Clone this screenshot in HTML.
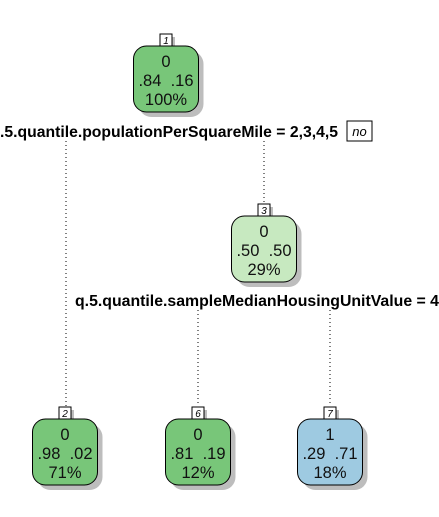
<!DOCTYPE html>
<html><head><meta charset="utf-8"><style>
body{margin:0;background:#fff;}
svg{display:block;font-family:"Liberation Sans",Arial,sans-serif;}
</style></head><body>
<svg id="chart" width="439" height="517" viewBox="0 0 439 517">
<g id="edges" stroke="#000" stroke-width="1" stroke-dasharray="1,3">
<line x1="66" y1="141" x2="66" y2="406"/>
<line x1="264" y1="141" x2="264" y2="204"/>
<line x1="198" y1="310" x2="198" y2="406"/>
<line x1="330" y1="310" x2="330" y2="406"/>
</g>
<text x="0" y="137" font-size="16" font-weight="bold" textLength="338" lengthAdjust="spacingAndGlyphs">.5.quantile.populationPerSquareMile = 2,3,4,5</text>
<rect x="347" y="121" width="25" height="20" fill="#fff" stroke="#000"/>
<text x="359.5" y="136" font-size="13" font-style="italic" text-anchor="middle">no</text>
<text x="75" y="306" font-size="16" font-weight="bold" textLength="364" lengthAdjust="spacingAndGlyphs">q.5.quantile.sampleMedianHousingUnitValue = 4</text>
<g id="nodes"></g>
</svg>
<script>
const nodeIds=["1","3","2","6","7"];
const nodeClass=["0","0","0","0","1"];
const nodeP0=[".84",".50",".98",".81",".29"];
const nodeP1=[".16",".50",".02",".19",".71"];
const nodePct=["100%","29%","71%","12%","18%"];
const nodeFill=["#78c679","#c7e9c0","#78c679","#78c679","#9ecae1"];
const nodeCx=[166,264,65,198,330];
const nodeTop=[46,216,419,419,419];
const g=document.getElementById('nodes');
const NS="http://www.w3.org/2000/svg";
function mk(t,a){const e=document.createElementNS(NS,t);for(const k in a)e.setAttribute(k,a[k]);return e;}
for(let i=0;i<nodeIds.length;i++){
  const cx=nodeCx[i],top=nodeTop[i],w=65,h=66,x=cx-w/2;
  const grp=mk('g',{});
  
  
  const sh=mk('rect',{x:x+5,y:top+5,width:w,height:h,rx:13,fill:'#bdbdbd'});
  
  
  grp.appendChild(sh);
  const ls=mk('rect',{x:cx-6+3,y:top-12+3,width:12,height:12,fill:'#bdbdbd'});
  
  
  grp.appendChild(ls);
  const r=mk('rect',{x:x,y:top,width:w,height:h,rx:13,fill:nodeFill[i],stroke:'#000','stroke-width':1});
  
  
  grp.appendChild(r);
  const lb=mk('rect',{x:cx-6,y:top-12,width:12,height:12,fill:'#fff',stroke:'#000','stroke-width':1});
  
  
  grp.appendChild(lb);
  const lt=mk('text',{x:cx,y:top-2,'font-size':10,'font-style':'italic','text-anchor':'middle'});
  lt.textContent=nodeIds[i];
  
  
  grp.appendChild(lt);
  const lines=[nodeClass[i],nodeP0[i]+"\u00a0\u00a0"+nodeP1[i],nodePct[i]];
  const names=['node-class','node-probs','node-percent'];
  for(let j=0;j<3;j++){
    const t=mk('text',{x:cx,y:top+21+j*19,'font-size':16.5,'text-anchor':'middle',fill:'#111'});
    t.textContent=lines[j];
    
    
    grp.appendChild(t);
  }
  g.appendChild(grp);
}
</script>
</body></html>
